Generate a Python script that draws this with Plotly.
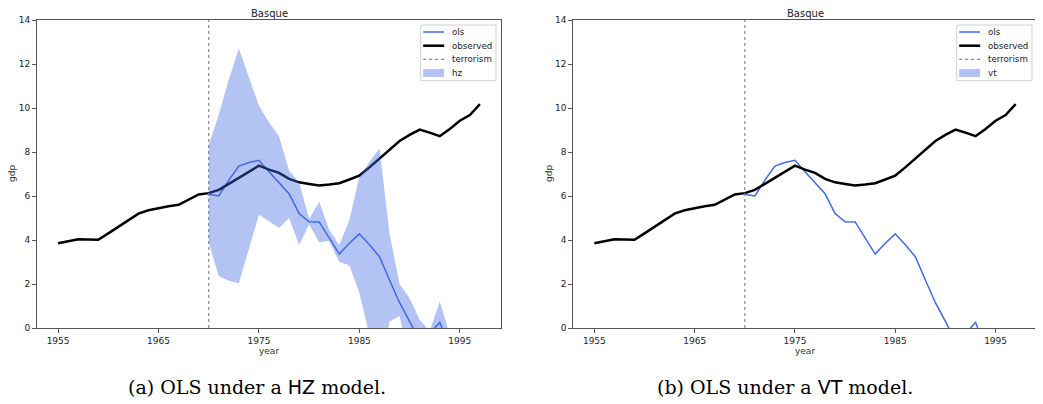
import plotly.graph_objects as go

# ---------------- data ----------------
years_obs = list(range(1955, 1998))
observed = [3.85, 3.93, 4.03, 4.02, 4.01, 4.30, 4.60, 4.92, 5.20, 5.35,
            5.45, 5.53, 5.60, 5.83, 6.07, 6.13, 6.28, 6.55, 6.82, 7.10,
            7.38, 7.20, 7.05, 6.78, 6.62, 6.55, 6.48, 6.52, 6.58, 6.75,
            6.93, 7.30, 7.70, 8.12, 8.50, 8.78, 9.02, 8.88, 8.72, 9.05,
            9.42, 9.68, 10.18]

years_post = list(range(1970, 1998))
ols = [6.08, 6.00, 6.72, 7.36, 7.52, 7.62, 7.10, 6.62, 6.10, 5.20,
       4.83, 4.82, 4.12, 3.36, 3.85, 4.28, 3.78, 3.24, 2.18, 1.15,
       0.30, -0.60, -0.25, 0.25, -0.85, -1.50, -2.00, -2.50]

hz_upper = [8.30, 9.70, 11.30, 12.70, 11.40, 10.10, 9.35, 8.70, 7.15, 6.60,
            4.95, 5.74, 4.45, 3.77, 4.90, 6.90, 7.55, 8.17, 4.30, 2.00,
            1.35, 0.38, -0.15, 1.20, -0.30, -1.00, -1.50, -2.00]
hz_lower = [3.90, 2.35, 2.15, 2.03, 3.60, 5.15, 4.85, 4.55, 5.00, 3.77,
            4.70, 3.90, 3.95, 3.00, 2.85, 1.60, -0.33, -2.50, 0.30, 0.55,
            -1.50, -2.50, -3.00, -3.00, -3.50, -4.00, -4.50, -5.00]

treatment_year = 1970
x_ticks = [1955, 1965, 1975, 1985, 1995]
y_ticks = [0, 2, 4, 6, 8, 10, 12, 14]
legend_labels = ["ols", "observed", "terrorism"]
band_names = ["hz", "vt"]
captions = ["(a) OLS under a <span style='font-family:DejaVu Sans'>HZ</span> model.",
            "(b) OLS under a <span style='font-family:DejaVu Sans'>VT</span> model."]

# ---------------- geometry ----------------
# the page body adds an 8px margin, so the figure is drawn 8px smaller and shifted
OFF = 8
WIN_W, WIN_H = 1043, 404
W, H = WIN_W - OFF, WIN_H - OFF
BLUE = "#4169E1"
BAND = "rgba(65,105,225,0.4)"
FONT = "DejaVu Sans"


def px(x):
    return (x - OFF) / W


def py(y):
    return (H - (y - OFF)) / H


fig = go.Figure()

x_domains = [[px(37), px(501)], [px(573.3), px(1036.7)]]
y_domain = [py(328), py(20)]

for i in range(2):
    xa = "x" if i == 0 else "x2"
    ya = "y" if i == 0 else "y2"
    fig.add_trace(go.Scatter(x=years_post, y=ols, mode="lines", name="ols",
                             line=dict(color=BLUE, width=1.5), showlegend=False,
                             xaxis=xa, yaxis=ya))
    fig.add_trace(go.Scatter(x=years_obs, y=observed, mode="lines", name="observed",
                             line=dict(color="black", width=2.5), showlegend=False,
                             xaxis=xa, yaxis=ya))
    fig.add_trace(go.Scatter(x=[treatment_year, treatment_year], y=[0, 14], mode="lines",
                             name="terrorism", line=dict(color="#888888", width=1.2, dash="dot"),
                             showlegend=False, xaxis=xa, yaxis=ya))
    if i == 0:
        fig.add_trace(go.Scatter(x=years_post + years_post[::-1], y=hz_upper + hz_lower[::-1],
                                 mode="lines", fill="toself", fillcolor=BAND,
                                 line=dict(width=0, color=BAND), name=band_names[i],
                                 showlegend=False, xaxis=xa, yaxis=ya))

axis_common = dict(showgrid=False, zeroline=False, showline=True, mirror=True,
                   linecolor="#555", linewidth=1, ticks="outside", ticklen=4,
                   tickcolor="#555", automargin=False,
                   tickfont=dict(family=FONT, size=9, color="#222"))

fig.update_layout(
    width=W, height=H, margin=dict(l=0, r=0, t=0, b=0, autoexpand=False),
    paper_bgcolor="white", plot_bgcolor="white", showlegend=False,
    xaxis=dict(domain=x_domains[0], range=[1952.9, 1999.1], tickvals=x_ticks,
               anchor="y", **axis_common),
    yaxis=dict(domain=y_domain, range=[0, 14], tickvals=y_ticks, anchor="x", **axis_common),
    xaxis2=dict(domain=x_domains[1], range=[1952.9, 1999.1], tickvals=x_ticks,
                anchor="y2", **axis_common),
    yaxis2=dict(domain=y_domain, range=[0, 14], tickvals=y_ticks, anchor="x2", **axis_common),
)

annotations = []
shapes = []


def note(text, x, y, size, family=FONT, color="#222", xanchor="center", angle=0):
    annotations.append(dict(text=text, x=px(x), y=py(y), xref="paper", yref="paper",
                            xanchor=xanchor, yanchor="middle", showarrow=False,
                            textangle=angle, font=dict(family=family, size=size, color=color)))


for i in range(2):
    xc = 269 if i == 0 else 805
    note("Basque", xc, 13, 10)
    note("year", xc, 351, 9, color="#333")
    note("gdp", 12 if i == 0 else 549, 174, 9, color="#333", angle=-90)
    note(captions[i], 256.5 if i == 0 else 785, 387, 19, family="DejaVu Serif", color="black")

    # legend (drawn manually to match matplotlib's compact legend)
    lx0 = 420.7 if i == 0 else 956.7
    lx1 = lx0 + 75.3
    shapes.append(dict(type="rect", xref="paper", yref="paper",
                       x0=px(lx0), x1=px(lx1), y0=py(80.7), y1=py(25),
                       line=dict(color="#d0d0d0", width=1),
                       fillcolor="rgba(255,255,255,0.85)", layer="above"))
    rows = [32, 45.7, 59.3, 73]
    sx0, sx1 = lx0 + 2.5, lx0 + 23.5
    styles = [dict(color=BLUE, width=1.5), dict(color="black", width=2.5),
              dict(color="#888888", width=1.2, dash="dot")]
    for r, st in zip(rows[:3], styles):
        shapes.append(dict(type="line", xref="paper", yref="paper",
                           x0=px(sx0), x1=px(sx1), y0=py(r), y1=py(r),
                           line=st, layer="above"))
    shapes.append(dict(type="rect", xref="paper", yref="paper",
                       x0=px(sx0), x1=px(sx1), y0=py(rows[3] + 4), y1=py(rows[3] - 4),
                       line=dict(width=0), fillcolor=BAND, layer="above"))
    for r, lab in zip(rows, legend_labels + [band_names[i]]):
        note(lab, lx0 + 29, r, 8.7, xanchor="left")

fig.update_layout(annotations=annotations, shapes=shapes)

fig.write_html("out.html")
